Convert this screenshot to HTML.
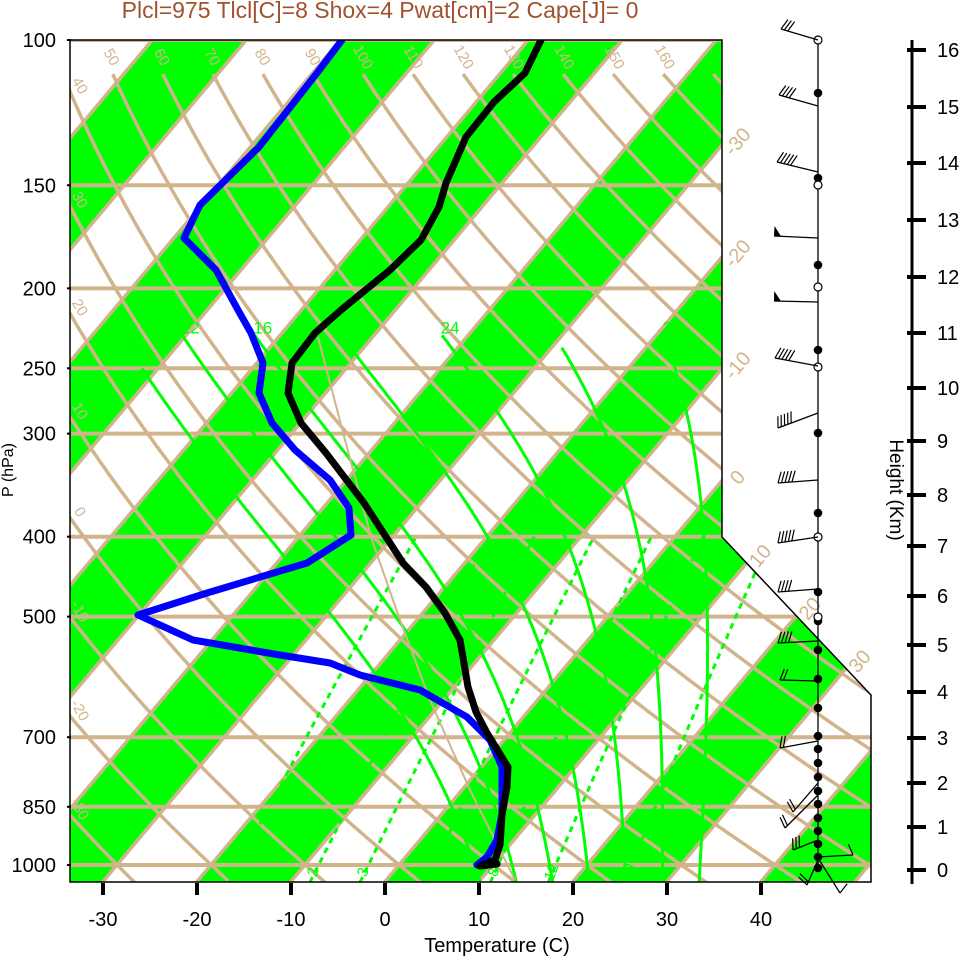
<!DOCTYPE html>
<html><head><meta charset="utf-8">
<style>
html,body{margin:0;padding:0;background:#fff;}
svg{display:block;font-family:"Liberation Sans",sans-serif;}
</style></head>
<body>
<svg id="s" width="961" height="957" viewBox="0 0 961 957" xmlns="http://www.w3.org/2000/svg"></svg>
<script>
const NS="http://www.w3.org/2000/svg";
const S=document.getElementById('s');
function el(tag,attrs,parent,text){const e=document.createElementNS(NS,tag);for(const k in attrs)e.setAttribute(k,attrs[k]);if(text!==undefined)e.textContent=text;(parent||S).appendChild(e);return e;}
const Y=p=>40+825*Math.log10(p/100);
const X=(T,p)=>385+9.4*T+0.84*(882-Y(p));
const TAN="#D2B48C", GRN="#00FF00";
const pts=a=>a.map(q=>q[0].toFixed(1)+","+q[1].toFixed(1)).join(" ");
const defs=el('defs',{});
const cp=el('clipPath',{id:'c'},defs);
const border=[[70,40],[722,40],[722,537],[871,695],[871,882],[70,882]];
el('polygon',{points:pts(border)},cp);
const g=el('g',{'clip-path':'url(#c)'});
for(let n=-9;n<=4;n++){const a=20*n,b=a+10;
 el('polygon',{points:pts([[X(a,1050),882],[X(b,1050),882],[X(b,100),40],[X(a,100),40]]),fill:GRN},g);}
[100,150,200,250,300,400,500,700,850,1000].forEach(p=>el('line',{x1:70,x2:871,y1:Y(p),y2:Y(p),stroke:TAN,'stroke-width':4},g));
for(let T=-170;T<=60;T+=10){el('line',{x1:X(T,1050),y1:882,x2:X(T,100),y2:40,stroke:TAN,'stroke-width':3.5},g);}
const dryT=(th,p)=>(th+273.15)*Math.pow(p/1000,0.2857)-273.15;
for(let th=-40;th<=240;th+=10){const a=[];for(let p=1050;p>=110;p-=5)a.push([X(dryT(th,p),p),Y(p)]);
 el('polyline',{points:pts(a),fill:'none',stroke:TAN,'stroke-width':3.5},g);}
function tdFromE(e){const l=Math.log(e/6.112);return 243.5*l/(17.67-l);}
[1,2,3,5,8,12,20].forEach(w=>{const a=[];for(let p=1050;p>=400;p-=5){const e=w*p/(622+w);a.push([X(tdFromE(e),p),Y(p)]);}
 el('polyline',{points:pts(a),fill:'none',stroke:GRN,'stroke-width':3,'stroke-dasharray':'6,5'},g);
 const e=w*1050/(622+w);const x=X(tdFromE(e),1050)+3;
 el('text',{x:x,y:877,fill:GRN,'font-size':15,'text-anchor':'middle',transform:`rotate(-70 ${x} 872)`},g,String(w));});
function es(Tc){return 6.112*Math.exp(17.67*Tc/(Tc+243.5));}
function dTdp(T,p){const Tc=T-273.15;const e=es(Tc);const rs=0.622*e/(p-e);const Rd=287,cp=1004,L=2.5e6;
 return (Rd*T+L*rs)/(p*(cp+L*L*rs*0.622/(Rd*T*T)));}
const moist=[[8,250,0],[12,229,1],[16,229,1],[20,237,0],[24,229,1],[28,237,0],[32,229,1]];
moist.forEach(([tw,ptop,lab])=>{let T=tw+273.15,p=1000;const up=[];const dp=-2;
 while(p>ptop){up.push([X(T-273.15,p),Y(p)]);const k1=dTdp(T,p);const k2=dTdp(T+k1*dp,p+dp);T+=0.5*(k1+k2)*dp;p+=dp;}
 up.push([X(T-273.15,p),Y(p)]);
 let T2=tw+273.15,p2=1000;const dn=[];while(p2<1050){const k1=dTdp(T2,p2);const k2=dTdp(T2+k1*2,p2+2);T2+=0.5*(k1+k2)*2;p2+=2;dn.push([X(T2-273.15,p2),Y(p2)]);}
 const all=dn.reverse().concat(up);
 el('polyline',{points:pts(all),fill:'none',stroke:GRN,'stroke-width':3},g);
 if(lab){const q=up[up.length-1];el('text',{x:q[0]+8,y:q[1]-2,fill:GRN,'font-size':17,'text-anchor':'middle'},S,String(tw));}
});
el('polyline',{points:"318,337 345,440 372,540 400,620 430,700 470,790 515,880",fill:'none',stroke:TAN,'stroke-width':2},g);
el('polyline',{points:"342,40 317,73 259,147 200,205 184,238 216,270 238,310 251,333 263,363 259,393 272,423 295,450 330,480 349,508 351,535 307,563 207,593 138,615 193,640 280,655 330,663 360,675 420,690 467,717 490,740 502,767 502,813 497,840 487,857 477,865",fill:'none',stroke:'#0000FF','stroke-width':7,'stroke-linejoin':'round','stroke-linecap':'round'},g);
el('polyline',{points:"541,40 525,73 494,102 466,137 446,183 439,207 421,240 390,270 341,310 315,333 292,363 288,393 301,423 326,453 364,503 403,563 426,587 445,613 460,640 468,687 476,712 487,733 508,767 507,787 502,815 500,845 495,860 480,866 497,864",fill:'none',stroke:'#000','stroke-width':7,'stroke-linejoin':'round','stroke-linecap':'round'},g);
el('polygon',{points:pts(border),fill:'none',stroke:'#000','stroke-width':1.5});
[[100,"100"],[150,"150"],[200,"200"],[250,"250"],[300,"300"],[400,"400"],[500,"500"],[700,"700"],[850,"850"],[1000,"1000"]].forEach(([p,t])=>{
 el('text',{x:56,y:Y(p)+7,'font-size':20,'text-anchor':'end',fill:'#000'},S,t);
 el('line',{x1:67,x2:71,y1:Y(p),y2:Y(p),stroke:'#000','stroke-width':2});});
el('text',{x:13,y:470,'font-size':16,'text-anchor':'middle',transform:'rotate(-90 13 470)'},S,'P (hPa)');
[-30,-20,-10,0,10,20,30,40].forEach(T=>{const x=385+9.4*T;
 el('line',{x1:x,x2:x,y1:883,y2:895,stroke:'#000','stroke-width':4});
 el('text',{x:x,y:926,'font-size':20,'text-anchor':'middle'},S,String(T));});
el('text',{x:497,y:952,'font-size':20,'text-anchor':'middle'},S,'Temperature (C)');
el('text',{x:380,y:18,'font-size':23,'text-anchor':'middle',fill:'#A0522D'},S,'Plcl=975 Tlcl[C]=8 Shox=4 Pwat[cm]=2 Cape[J]= 0');
for(let th=50;th<=160;th+=10){const x=X(dryT(th,112),112);
 el('text',{x:x-4,y:62,'font-size':15,fill:TAN,'text-anchor':'middle',transform:`rotate(60 ${x-4} 57)`},S,String(th));}
for(let th=-30;th<=40;th+=10){
 let lo=100,hi=1050;const f=p=>X(dryT(th,p),p);
 for(let i=0;i<50;i++){const m=(lo+hi)/2;if(f(m)<70)lo=m;else hi=m;}
 const y=Y((lo+hi)/2);if(y>45&&y<880){
 el('text',{x:80,y:y-1,'font-size':15,fill:TAN,'text-anchor':'middle',transform:`rotate(60 80 ${y-6})`},S,String(th));}}
for(let T=-30;T<=0;T+=10){const y=882-(722-385-9.4*T)/0.84;
 el('text',{x:738,y:y+3,'font-size':20,fill:TAN,'text-anchor':'middle',transform:`rotate(-50 738 ${y-3})`},S,String(T));}
for(let T=10;T<=30;T+=10){let lo=0,hi=1;const P=t=>[722+149*t,537+158*t];
 for(let i=0;i<40;i++){const m=(lo+hi)/2;const q=P(m);const xi=385+9.4*T+0.84*(882-q[1]);if(xi>q[0])lo=m;else hi=m;}
 const q=P((lo+hi)/2);
 el('text',{x:q[0]+14,y:q[1]-1,'font-size':20,fill:TAN,'text-anchor':'middle',transform:`rotate(-50 ${q[0]+14} ${q[1]-7})`},S,String(T));}
el('line',{x1:818,x2:818,y1:40,y2:870,stroke:'#000','stroke-width':1.3});
[93,178,265,350,433,513,592,621,650,679,708,736,749,763,777,791,804,818,831,844,857,868].forEach(y=>el('circle',{cx:818,cy:y,r:4.3,fill:'#000'}));
[40,185,287,367,537,617].forEach(y=>el('circle',{cx:818,cy:y,r:4,fill:'#fff',stroke:'#000','stroke-width':1.2}));
const barbs=[[818,40,781,29,3,0],[818,106,779,95,4,0],[818,172,777,162,5,0],[818,238,774,236,0,1],[818,302,774,301,0,1],[818,366,775,358,5,0],[818,413,778,428,5,0],[818,480,778,483,5,0],[818,537,778,543,5,0],[818,589,778,592,4,0],[818,641,778,643,4,0],[818,681,780,680,2,0],[818,741,780,748,2,0],[818,783,793,812,2,0],[818,795,785,828,2,0],[818,840,793,850,3,0],[818,857,853,855,1,0],[818,858,840,893,1,0],[818,860,807,885,2,0]];
barbs.forEach(([x0,y0,x1,y1,n,pen])=>{el('line',{x1:x0,y1:y0,x2:x1,y2:y1,stroke:'#000','stroke-width':1.3});
 const dx=x1-x0,dy=y1-y0,L=Math.hypot(dx,dy),ux=dx/L,uy=dy/L;
 let fx=uy,fy=-ux; if(fy>0){fx=-fx;fy=-fy;}
 if(pen){el('polygon',{points:pts([[x1,y1],[x1+fx*10,y1+fy*10],[x1-ux*7,y1-uy*7]]),fill:'#000'});}
 for(let i=0;i<n;i++){const bx=x1-ux*i*3.5,by=y1-uy*i*3.5;
  el('line',{x1:bx,y1:by,x2:bx+fx*11-ux*4,y2:by+fy*11-uy*4,stroke:'#000','stroke-width':1.2});}
});
el('line',{x1:912,x2:912,y1:40,y2:884,stroke:'#000','stroke-width':3});
const hy=[870,827,783,738,692,645,596,546,495,441,388,333,277,220,163,107,50];
hy.forEach((y,i)=>{el('line',{x1:907,x2:926,y1:y,y2:y,stroke:'#000','stroke-width':4});
 el('text',{x:937,y:y+7,'font-size':20},S,String(i));});
el('text',{x:890,y:490,'font-size':19,'text-anchor':'middle',transform:'rotate(90 890 490)'},S,'Height (Km)');
</script>
</body></html>
